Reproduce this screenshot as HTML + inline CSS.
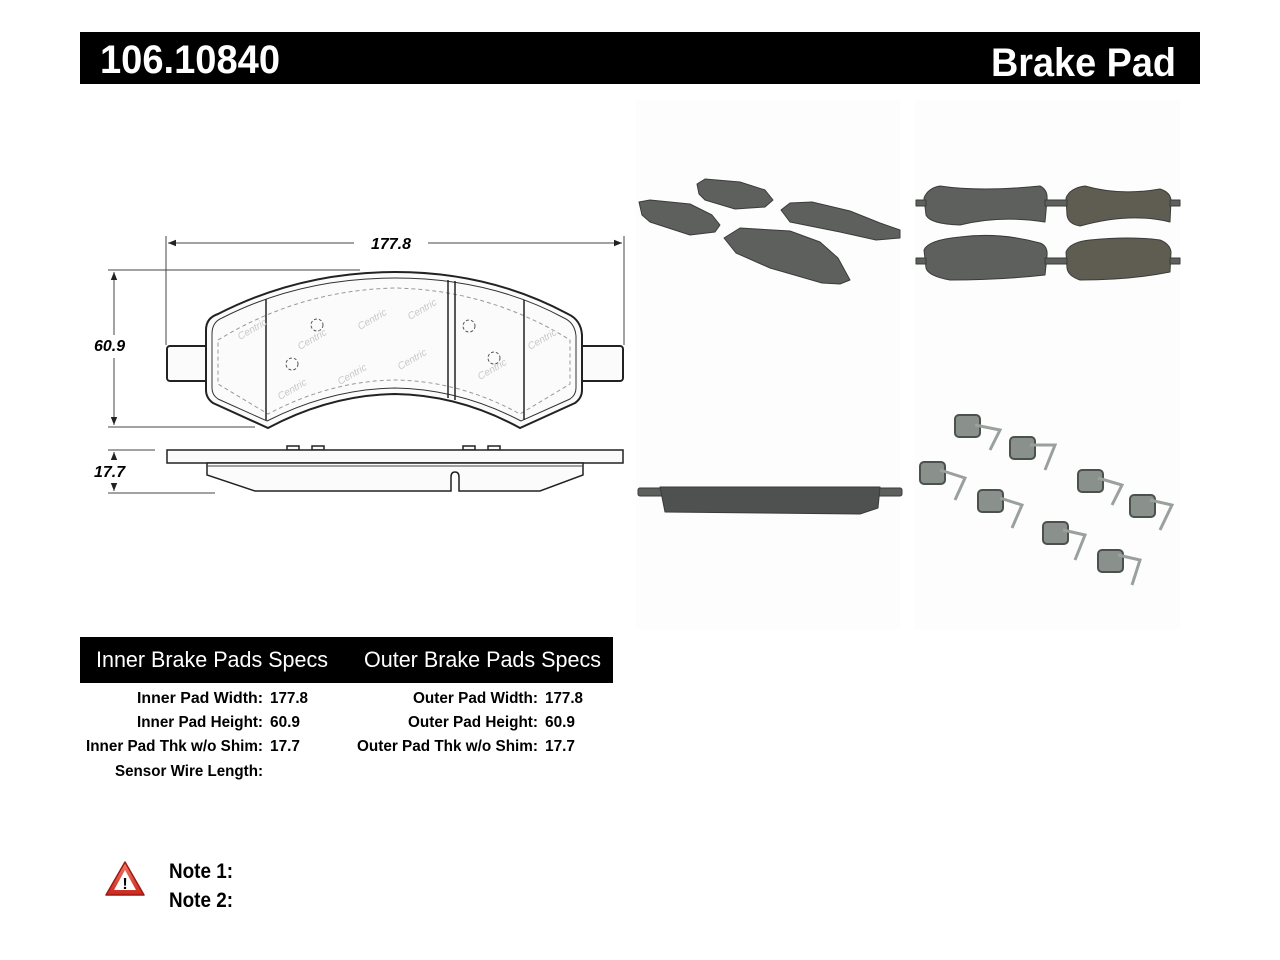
<!DOCTYPE html>
<html><head><meta charset="utf-8"><style>
html,body{margin:0;padding:0;background:#fff;}
svg{display:block;}
text{font-family:"Liberation Sans",sans-serif;}
</style></head><body>
<svg width="1280" height="960" viewBox="0 0 1280 960" xmlns="http://www.w3.org/2000/svg">
<defs>
<marker id="ar" viewBox="0 0 10 10" refX="10" refY="5" markerWidth="8" markerHeight="8" orient="auto-start-reverse"><path d="M0,1 L10,5 L0,9 Z" fill="#222"/></marker>
<linearGradient id="tri" x1="0" y1="0" x2="0" y2="1"><stop offset="0" stop-color="#f37a6a"/><stop offset="1" stop-color="#c8281c"/></linearGradient>
</defs>
<rect x="80" y="32" width="1120" height="52" fill="#000"/>
<text x="100" y="73" fill="#fff" font-size="40" font-weight="bold" textLength="180" lengthAdjust="spacingAndGlyphs">106.10840</text>
<text x="1176" y="76" fill="#fff" font-size="40" font-weight="bold" text-anchor="end" textLength="185" lengthAdjust="spacingAndGlyphs">Brake Pad</text>

<g stroke="#444" stroke-width="1" fill="none">
<line x1="166" y1="236" x2="166" y2="345"/>
<line x1="624" y1="236" x2="624" y2="345"/>
<line x1="168" y1="243" x2="354" y2="243" marker-start="url(#ar)"/>
<line x1="428" y1="243" x2="622" y2="243" marker-end="url(#ar)"/>
<line x1="108" y1="270" x2="360" y2="270"/>
<line x1="108" y1="427" x2="255" y2="427"/>
<line x1="114" y1="272" x2="114" y2="335" marker-start="url(#ar)"/>
<line x1="114" y1="358" x2="114" y2="425" marker-end="url(#ar)"/>
<line x1="108" y1="450" x2="155" y2="450"/>
<line x1="108" y1="493" x2="215" y2="493"/>
<line x1="114" y1="452" x2="114" y2="458" marker-start="url(#ar)"/>
<line x1="114" y1="484" x2="114" y2="491" marker-end="url(#ar)"/>
</g>
<text x="391" y="249" font-size="16" font-weight="bold" font-style="italic" text-anchor="middle">177.8</text>
<text x="94" y="351" font-size="16" font-weight="bold" font-style="italic">60.9</text>
<text x="94" y="477" font-size="16" font-weight="bold" font-style="italic">17.7</text>

<g fill="#fbfbfb" stroke="#222" stroke-width="2">
<rect x="167" y="346" width="42" height="35" rx="3"/>
<rect x="580" y="346" width="43" height="35" rx="3"/>
<path d="M206,330 Q206,318 218,314 Q300,272 395,272 Q490,272 568,314 Q581,320 582,335 L582,390 Q582,398 575,403 L520,428 Q460,395 395,394 Q330,395 268,428 L213,403 Q206,398 206,390 Z"/>
</g>
<path d="M212,334 Q212,322 222,318 Q300,278 395,278 Q490,278 564,318 Q575,323 576,336 L576,388 Q576,395 570,399 L521,421 Q460,389 395,388 Q330,389 267,421 L218,399 Q212,395 212,388 Z" fill="none" stroke="#333" stroke-width="1"/>
<path d="M218,340 Q300,290 395,288 Q490,290 570,340 L570,384 L520,414 Q460,381 395,380 Q330,381 268,414 L218,384 Z" fill="none" stroke="#999" stroke-width="1" stroke-dasharray="4,3"/>
<g stroke="#222" stroke-width="1.5">
<line x1="266" y1="299" x2="266" y2="420"/>
<line x1="448" y1="280" x2="448" y2="398"/>
<line x1="455" y1="281" x2="455" y2="400"/>
<line x1="524" y1="300" x2="524" y2="420"/>
</g>
<g fill="none" stroke="#555" stroke-width="1" stroke-dasharray="3,2">
<circle cx="317" cy="325" r="6"/><circle cx="292" cy="364" r="6"/>
<circle cx="469" cy="326" r="6"/><circle cx="494" cy="358" r="6"/>
</g>
<g fill="#c8c8c8" font-size="10" font-style="italic">
<text x="240" y="340" transform="rotate(-30 240 340)">Centric</text>
<text x="300" y="350" transform="rotate(-30 300 350)">Centric</text>
<text x="360" y="330" transform="rotate(-30 360 330)">Centric</text>
<text x="410" y="320" transform="rotate(-30 410 320)">Centric</text>
<text x="280" y="400" transform="rotate(-30 280 400)">Centric</text>
<text x="340" y="385" transform="rotate(-30 340 385)">Centric</text>
<text x="400" y="370" transform="rotate(-30 400 370)">Centric</text>
<text x="480" y="380" transform="rotate(-30 480 380)">Centric</text>
<text x="530" y="350" transform="rotate(-30 530 350)">Centric</text>
</g>

<g fill="#fbfbfb" stroke="#222" stroke-width="1.5">
<rect x="287" y="446" width="12" height="4"/><rect x="312" y="446" width="12" height="4"/>
<rect x="463" y="446" width="12" height="4"/><rect x="488" y="446" width="12" height="4"/>
<rect x="167" y="450" width="456" height="13"/>
<path d="M207,463 L583,463 L583,475 L540,491 L459,491 L459,477 Q459,472 455,472 Q451,472 451,477 L451,491 L255,491 L207,475 Z"/>
</g>
<line x1="207" y1="466" x2="583" y2="466" stroke="#444" stroke-width="1"/>

<rect x="636" y="100" width="264" height="530" fill="#fdfdfd"/>
<rect x="915" y="100" width="265" height="530" fill="#fdfdfd"/>
<g fill="#5d605d" stroke="#3a3c3a" stroke-width="1" stroke-linejoin="round">
<polygon points="639,202 650,200 690,204 712,215 720,225 715,232 690,235 650,222 642,215"/>
<polygon points="697,184 705,179 740,182 765,190 773,200 765,207 735,209 705,200 699,194"/>
<polygon points="781,210 790,203 812,202 850,211 880,223 900,230 900,238 876,240 840,232 790,222"/>
<polygon points="724,238 740,228 790,231 820,242 838,258 850,280 840,284 822,283 770,268 736,253"/>
<path d="M924,198 Q928,188 940,186 Q980,192 1040,186 Q1048,190 1047,200 L1045,222 Q1000,215 960,225 Q930,224 926,215 Z"/>
<path d="M1066,198 Q1070,188 1085,186 Q1120,196 1160,189 Q1170,192 1171,200 L1170,222 Q1130,212 1080,226 Q1068,224 1067,215 Z" fill="#5f5d52"/>
<path d="M924,250 Q928,240 960,237 Q1000,232 1040,243 Q1048,246 1047,256 L1045,275 Q1000,280 950,280 Q928,276 926,268 Z"/>
<path d="M1066,252 Q1070,242 1090,240 Q1130,236 1160,240 Q1170,244 1171,252 L1170,272 Q1130,280 1080,280 Q1068,276 1067,268 Z" fill="#5f5d52"/>
<rect x="916" y="200" width="10" height="6"/><rect x="1045" y="200" width="22" height="6"/><rect x="1170" y="200" width="10" height="6"/>
<rect x="916" y="258" width="10" height="6"/><rect x="1045" y="258" width="22" height="6"/><rect x="1170" y="258" width="10" height="6"/>
<rect x="638" y="488" width="264" height="8" rx="2"/>
<path d="M660,487 L880,487 L878,508 L860,514 L665,512 Z" fill="#4e514f"/>
</g>
<g fill="#8a918c" stroke="#4b514d" stroke-width="2">
<rect x="955" y="415" width="25" height="22" rx="4"/>
<rect x="1010" y="437" width="25" height="22" rx="4"/>
<rect x="920" y="462" width="25" height="22" rx="4"/>
<rect x="978" y="490" width="25" height="22" rx="4"/>
<rect x="1078" y="470" width="25" height="22" rx="4"/>
<rect x="1130" y="495" width="25" height="22" rx="4"/>
<rect x="1043" y="522" width="25" height="22" rx="4"/>
<rect x="1098" y="550" width="25" height="22" rx="4"/>
</g>
<g fill="none" stroke="#9aa19c" stroke-width="3">
<path d="M975,425 L1000,430 L990,450"/><path d="M1030,445 L1055,445 L1045,470"/>
<path d="M940,470 L965,478 L955,500"/><path d="M1000,498 L1022,505 L1012,528"/>
<path d="M1098,478 L1122,485 L1112,505"/><path d="M1150,500 L1172,505 L1160,530"/>
<path d="M1063,530 L1085,535 L1075,560"/><path d="M1118,555 L1140,560 L1132,585"/>
</g>

<rect x="80" y="637" width="533" height="46" fill="#000"/>
<text x="96" y="667" fill="#fff" font-size="22" textLength="232" lengthAdjust="spacingAndGlyphs">Inner Brake Pads Specs</text>
<text x="364" y="667" fill="#fff" font-size="22" textLength="237" lengthAdjust="spacingAndGlyphs">Outer Brake Pads Specs</text>
<g font-size="16" font-weight="bold">
<g text-anchor="end">
<text x="263" y="703" textLength="126" lengthAdjust="spacingAndGlyphs">Inner Pad Width:</text>
<text x="263" y="727" textLength="126" lengthAdjust="spacingAndGlyphs">Inner Pad Height:</text>
<text x="263" y="751" textLength="177" lengthAdjust="spacingAndGlyphs">Inner Pad Thk w/o Shim:</text>
<text x="263" y="776" textLength="148" lengthAdjust="spacingAndGlyphs">Sensor Wire Length:</text>
<text x="538" y="703" textLength="125" lengthAdjust="spacingAndGlyphs">Outer Pad Width:</text>
<text x="538" y="727" textLength="130" lengthAdjust="spacingAndGlyphs">Outer Pad Height:</text>
<text x="538" y="751" textLength="181" lengthAdjust="spacingAndGlyphs">Outer Pad Thk w/o Shim:</text>
</g>
<text x="270" y="703" textLength="38" lengthAdjust="spacingAndGlyphs">177.8</text>
<text x="270" y="727" textLength="30" lengthAdjust="spacingAndGlyphs">60.9</text>
<text x="270" y="751" textLength="30" lengthAdjust="spacingAndGlyphs">17.7</text>
<text x="545" y="703" textLength="38" lengthAdjust="spacingAndGlyphs">177.8</text>
<text x="545" y="727" textLength="30" lengthAdjust="spacingAndGlyphs">60.9</text>
<text x="545" y="751" textLength="30" lengthAdjust="spacingAndGlyphs">17.7</text>
</g>

<path d="M125,862 L144,895 L106,895 Z" fill="url(#tri)" stroke="#a01810" stroke-width="1.5" stroke-linejoin="round"/>
<path d="M125,870 L136,890 L114,890 Z" fill="#fff"/>
<text x="125" y="889" font-size="16" font-weight="bold" text-anchor="middle">!</text>
<text x="169" y="878" font-size="21" font-weight="bold" textLength="64" lengthAdjust="spacingAndGlyphs">Note 1:</text>
<text x="169" y="907" font-size="21" font-weight="bold" textLength="64" lengthAdjust="spacingAndGlyphs">Note 2:</text>
</svg>
</body></html>
